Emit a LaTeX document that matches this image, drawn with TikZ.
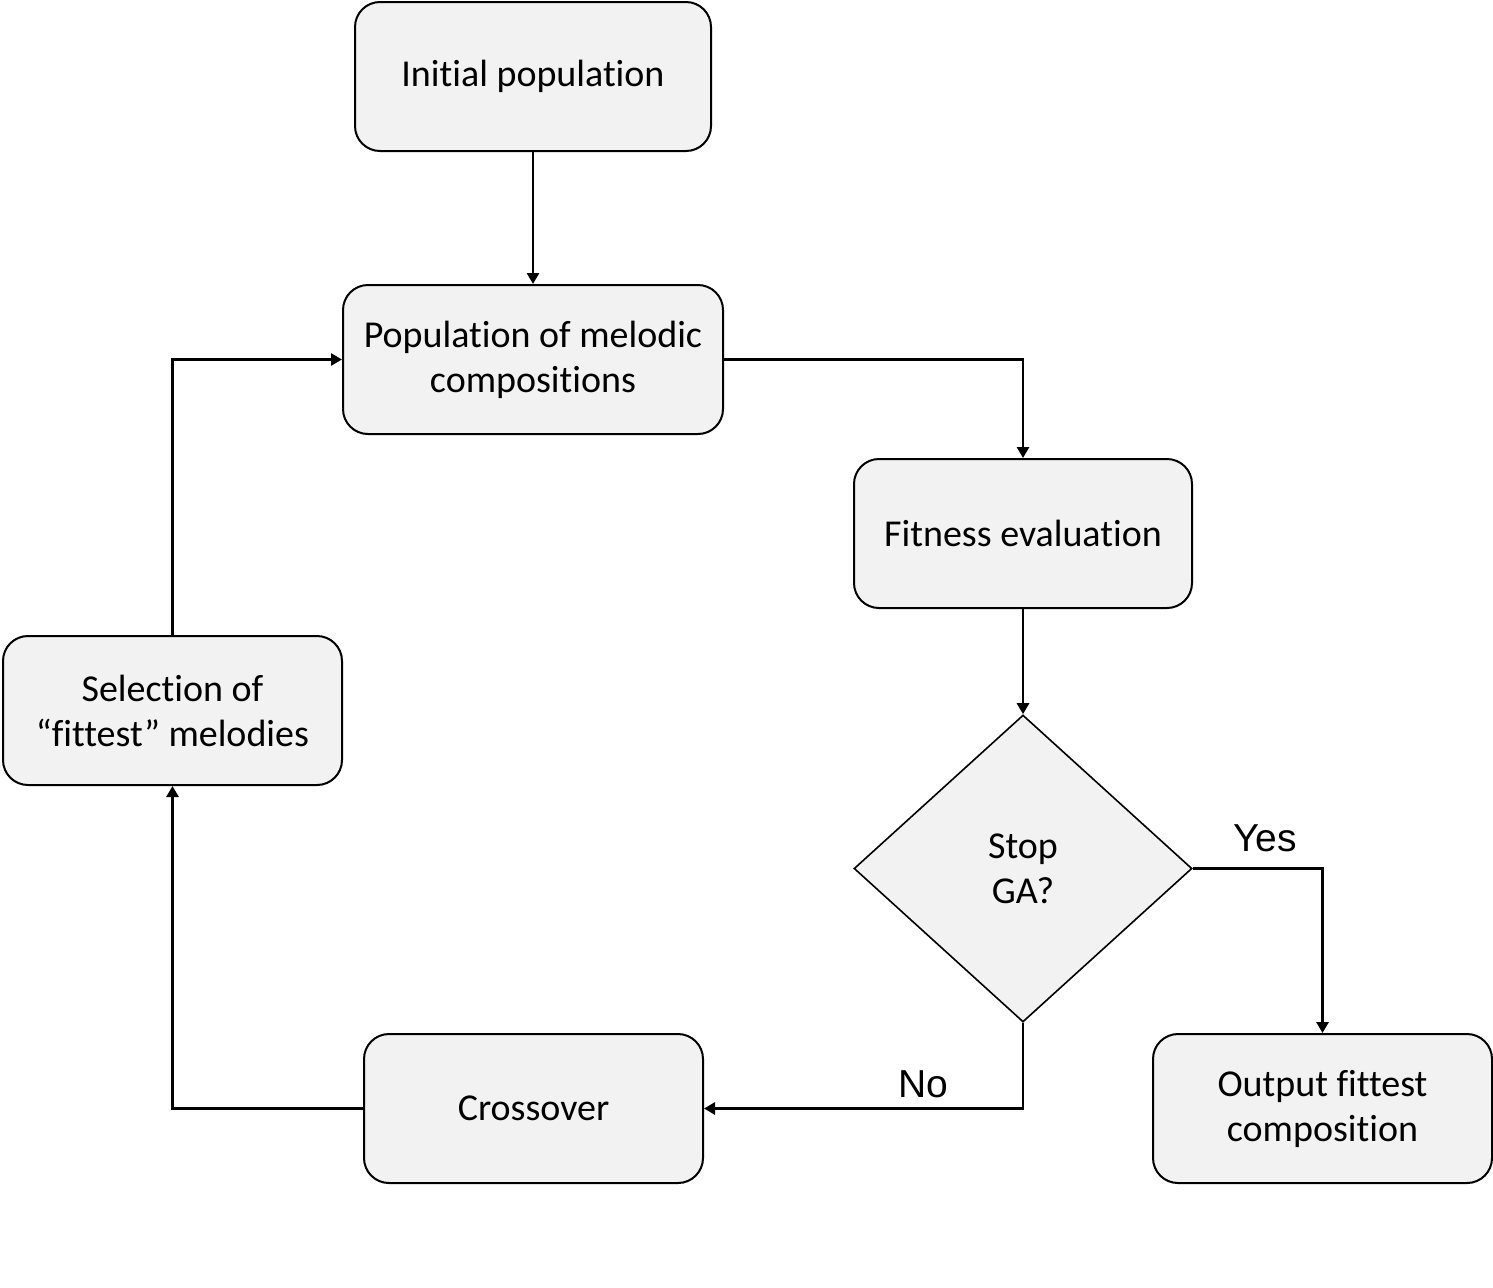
\documentclass[tikz,border=0pt]{standalone}
\usepackage{fontspec}
\setmainfont{Carlito}[Ligatures={NoCommon,NoContextual}]
\newfontfamily\labelfont{Liberation Sans}
\usetikzlibrary{arrows.meta,calc,positioning,shapes.geometric}

\tikzset{
  stepbox/.style={draw,line width=1pt,rounded corners=12.5pt,fill=boxgray,
    minimum height=74.5pt,align=center,inner sep=0pt,
    font=\fontsize{19}{22.5}\selectfont},
  decide/.style={draw,line width=0.8pt,diamond,fill=boxgray,inner sep=0pt,
    minimum width=169pt,minimum height=153.5pt,align=center,
    font=\fontsize{19}{22.5}\selectfont},
  flow/.style={line width=1.4pt,-{Triangle[length=5.5pt,width=6pt]}},
  answer/.style={font=\labelfont\fontsize{19.5}{23}\selectfont}
}
\definecolor{boxgray}{HTML}{F2F2F2}

\begin{document}
\begin{tikzpicture}[x=0.5pt,y=-0.5pt]
  \useasboundingbox (0,0) rectangle (1493,1287);
  \node[stepbox,minimum width=178pt] (init) at (533,76.5) {Initial population};
  \node[stepbox,minimum width=190pt] (pop) at (533,359.5) {Population of melodic\\compositions};
  \node[stepbox,minimum width=169pt] (fit) at (1023,533.5) {Fitness evaluation};
  \node[decide] (stop) at (1023,868.5) {Stop\\GA?};
  \node[stepbox,minimum width=169.5pt] (out) at (1322.5,1108.5) {Output fittest\\composition};
  \node[stepbox,minimum width=169.5pt] (cross) at (533.5,1108.5) {Crossover};
  \node[stepbox,minimum width=169.5pt] (sel) at (172.5,710.5) {Selection of\\``fittest'' melodies};

  \draw[flow] (init) -- (pop);
  \draw[flow] (pop.east) -| (fit.north);
  \draw[flow] (fit) -- (stop);
  \draw[flow] (stop.east) -| (out.north);
  \draw[flow] (stop.south) |- (cross.east);
  \draw[flow] (cross.west) -| (sel.south);
  \draw[flow] (sel.north) |- (pop.west);

  \node[answer] (yes) at (1265,838) {Yes};
  \node[answer] (no) at (923,1084) {No};
\end{tikzpicture}
\end{document}
